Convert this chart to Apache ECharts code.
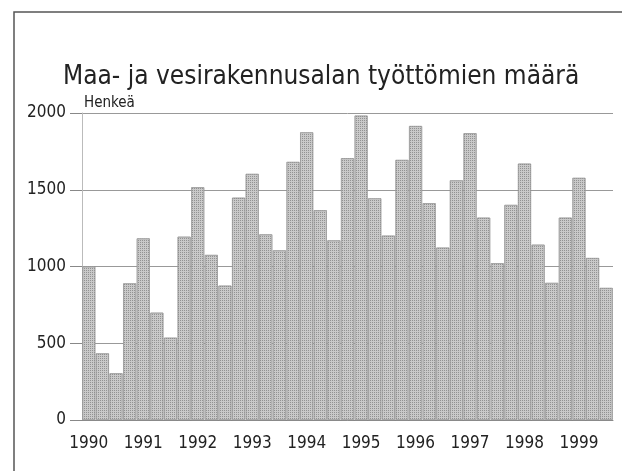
<!DOCTYPE html>
<html>
<head>
<meta charset="utf-8">
<script src="https://cdn.jsdelivr.net/npm/echarts@6/dist/echarts.min.js"></script>
<style>
  html, body {margin: 0; padding: 0; background: #fff;}
  #chart {width: 622px; height: 471px;}
</style>
</head>
<body>
<div id="chart"></div>
<script>
// neljännesvuosittain 1990 Q1 - 1999 Q3
const years = ['1990', '1991', '1992', '1993', '1994', '1995', '1996', '1997', '1998', '1999'];
const quarters = ['I', 'II', 'III', 'IV'];
const unemployed = [
  1000, 434, 304, 890,
  1183, 699, 536, 1194,
  1516, 1075, 875, 1448,
  1603, 1209, 1105, 1681,
  1874, 1366, 1170, 1705,
  1983, 1444, 1201, 1694,
  1915, 1412, 1123, 1561,
  1868, 1318, 1021, 1401,
  1670, 1142, 893, 1318,
  1577, 1055, 860
];
const yTicks = [0, 500, 1000, 1500, 2000];

const categories = unemployed.map((v, i) => years[Math.floor(i / 4)] + ' ' + quarters[i % 4]);
const font = '"DejaVu Sans Condensed", "Liberation Sans Narrow", sans-serif';

const chart = echarts.init(document.getElementById('chart'));
const option = {
  animation: false,
  title: {
    text: 'Maa- ja vesirakennusalan työttömien määrä',
    left: 58,
    top: 59,
    textStyle: {fontFamily: font, fontSize: 26, fontWeight: 'normal', color: '#222'}
  },
  graphic: [{
    type: 'rect',
    shape: {x: 14, y: 12, width: 700, height: 600},
    style: {fill: 'none', stroke: '#555', lineWidth: 1.5}
  }],
  grid: {left: 82, right: 9, top: 113, bottom: 51},
  xAxis: {
    type: 'category',
    data: categories,
    axisLine: {lineStyle: {color: '#888'}},
    axisTick: {
      alignWithLabel: true,
      interval: (i) => i % 4 === 0,
      length: 6,
      lineStyle: {color: '#888'}
    },
    axisLabel: {
      interval: (i) => i % 4 === 0,
      formatter: (v) => v.split(' ')[0],
      fontFamily: font,
      fontSize: 17,
      color: '#222',
      margin: 15
    }
  },
  yAxis: {
    type: 'value',
    min: yTicks[0],
    max: yTicks[yTicks.length - 1],
    interval: 500,
    name: 'Henkeä',
    nameLocation: 'end',
    nameGap: 2,
    nameTextStyle: {fontFamily: font, fontSize: 15, color: '#222', align: 'left', padding: [0, 0, 0, 2]},
    axisLine: {show: true, lineStyle: {color: '#bbb'}},
    axisTick: {show: true, length: 12, lineStyle: {color: '#888'}},
    splitLine: {lineStyle: {color: '#999'}},
    axisLabel: {fontFamily: font, fontSize: 17, color: '#222', margin: 16, formatter: (v) => String(v)}
  },
  series: [{
    type: 'bar',
    data: unemployed,
    barCategoryGap: '5%',
    itemStyle: {
      color: '#c9c9c9',
      borderColor: '#999',
      borderWidth: 0.6,
      decal: {
        symbol: 'rect',
        symbolSize: 1,
        dashArrayX: [1, 1],
        dashArrayY: [1, 1],
        color: 'rgba(80,80,80,0.45)'
      }
    }
  }]
};
chart.setOption(option);
</script>
</body>
</html>
